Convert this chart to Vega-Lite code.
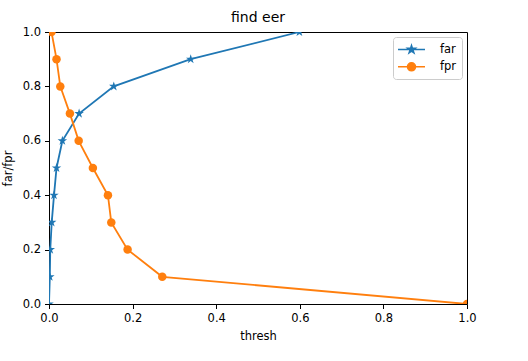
{
  "$schema": "https://vega.github.io/schema/vega-lite/v6.json",
  "autosize": "none",
  "width": 418,
  "height": 272,
  "padding": {"left": 49, "top": 32, "right": 61, "bottom": 57},
  "background": "white",
  "title": {"text": "find eer", "fontSize": 14, "fontWeight": "normal", "font": "DejaVu Sans", "color": "black", "offset": 1},
  "config": {
    "font": "DejaVu Sans",
    "view": {"stroke": "black", "strokeWidth": 1},
    "axis": {
      "grid": false, "domain": false, "tickColor": "black", "tickWidth": 1, "tickSize": 4.5,
      "labelFontSize": 11.5, "labelColor": "black", "labelPadding": 4,
      "titleFontSize": 11.5, "titleFontWeight": "normal", "titleColor": "black",
      "labelFont": "DejaVu Sans", "titleFont": "DejaVu Sans", "labelFlush": false
    }
  },
  "data": {"values": [
    {"series": "far", "i": 0, "thresh": 0.0, "value": 0.0},
    {"series": "far", "i": 1, "thresh": 0.002, "value": 0.1},
    {"series": "far", "i": 2, "thresh": 0.003, "value": 0.2},
    {"series": "far", "i": 3, "thresh": 0.0065, "value": 0.3},
    {"series": "far", "i": 4, "thresh": 0.012, "value": 0.4},
    {"series": "far", "i": 5, "thresh": 0.018, "value": 0.5},
    {"series": "far", "i": 6, "thresh": 0.032, "value": 0.6},
    {"series": "far", "i": 7, "thresh": 0.072, "value": 0.7},
    {"series": "far", "i": 8, "thresh": 0.155, "value": 0.8},
    {"series": "far", "i": 9, "thresh": 0.339, "value": 0.9},
    {"series": "far", "i": 10, "thresh": 0.599, "value": 1.0},
    {"series": "fpr", "i": 0, "thresh": 0.006, "value": 1.0},
    {"series": "fpr", "i": 1, "thresh": 0.018, "value": 0.9},
    {"series": "fpr", "i": 2, "thresh": 0.027, "value": 0.8},
    {"series": "fpr", "i": 3, "thresh": 0.05, "value": 0.7},
    {"series": "fpr", "i": 4, "thresh": 0.071, "value": 0.6},
    {"series": "fpr", "i": 5, "thresh": 0.105, "value": 0.5},
    {"series": "fpr", "i": 6, "thresh": 0.141, "value": 0.4},
    {"series": "fpr", "i": 7, "thresh": 0.149, "value": 0.3},
    {"series": "fpr", "i": 8, "thresh": 0.188, "value": 0.2},
    {"series": "fpr", "i": 9, "thresh": 0.271, "value": 0.1},
    {"series": "fpr", "i": 10, "thresh": 1.0, "value": 0.0}
  ]},
  "encoding": {
    "x": {"field": "thresh", "type": "quantitative", "scale": {"domain": [0, 1], "nice": false},
      "axis": {"title": "thresh", "values": [0, 0.2, 0.4, 0.6, 0.8, 1.0], "format": ".1f", "titlePadding": 6}},
    "y": {"field": "value", "type": "quantitative", "scale": {"domain": [0, 1], "nice": false},
      "axis": {"title": "far/fpr", "values": [0, 0.2, 0.4, 0.6, 0.8, 1.0], "format": ".1f", "titlePadding": 9}},
    "color": {"field": "series", "type": "nominal",
      "scale": {"domain": ["far", "fpr"], "range": ["#1f77b4", "#ff7f0e"]},
      "legend": {
        "title": null, "orient": "top-right", "offset": 5,
        "strokeColor": "#cccccc", "fillColor": "white", "cornerRadius": 3, "padding": 5,
        "labelFontSize": 11.5, "labelColor": "black", "labelFont": "DejaVu Sans",
        "symbolSize": 182, "symbolStrokeWidth": 1.5, "symbolOffset": 6, "labelOffset": 21, "rowPadding": 3.3,
        "encoding": {"symbols": {
          "shape": {"condition": {"test": "datum.value === 'far'", "value": "M-2,0L2,0M0,-0.6L0.1347,-0.1854L0.5706,-0.1854L0.2178,0.0708L0.3528,0.4854L0,0.2292L-0.3528,0.4854L-0.2178,0.0708L-0.5706,-0.1854L-0.1347,-0.1854Z"}, "value": "M-2,0L2,0M0.6,0A0.6,0.6,0,1,1,-0.6,0A0.6,0.6,0,1,1,0.6,0Z"},
          "fill": {"condition": {"test": "datum.value === 'far'", "value": "#1f77b4"}, "value": "#ff7f0e"},
          "stroke": {"condition": {"test": "datum.value === 'far'", "value": "#1f77b4"}, "value": "#ff7f0e"},
          "strokeWidth": {"value": 1.5},
          "opacity": {"value": 1}
        }}
      }}
  },
  "layer": [
    {"mark": {"type": "line", "strokeWidth": 1.8, "clip": true}, "encoding": {"order": {"field": "i", "type": "quantitative"}}},
    {"transform": [{"filter": "datum.series === 'far'"}],
      "mark": {"type": "point", "filled": true, "opacity": 1, "size": 100, "clip": true, "strokeWidth": 1,
        "shape": "M0,-1L0.2245,-0.309L0.951,-0.309L0.363,0.118L0.588,0.809L0,0.382L-0.588,0.809L-0.363,0.118L-0.951,-0.309L-0.2245,-0.309Z"}},
    {"transform": [{"filter": "datum.series === 'fpr'"}],
      "mark": {"type": "point", "filled": true, "opacity": 1, "size": 72, "clip": true, "shape": "circle"}}
  ]
}
